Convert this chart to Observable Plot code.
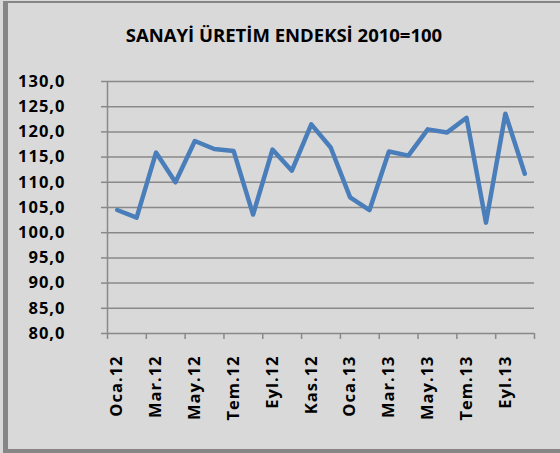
<!DOCTYPE html>
<html>
<head>
<meta charset="utf-8">
<script src="https://cdn.jsdelivr.net/npm/d3@7"></script>
<script src="https://cdn.jsdelivr.net/npm/@observablehq/plot@0.6"></script>
<style>
  html, body { margin: 0; padding: 0; background: #d9d9d9; }
  #frame {
    position: absolute; left: 3px; top: 1px; width: 560px; height: 452px;
    box-sizing: border-box;
    border-left: 5px solid #868686; border-top: 2px solid #868686; border-bottom: 4px solid #868686;
  }
  #chart { position: absolute; left: 0; top: 0; }
  #chart g[aria-label="y-axis tick label"] text,
  #chart g[aria-label="x-axis tick label"] text { letter-spacing: 1px; }
</style>
</head>
<body>
<div id="frame"></div>
<div id="chart"></div>
<script>
const title = "SANAYİ ÜRETİM ENDEKSİ 2010=100";
const months = ["Oca.12","Şub.12","Mar.12","Nis.12","May.12","Haz.12","Tem.12","Ağu.12","Eyl.12","Eki.12","Kas.12","Ara.12",
                "Oca.13","Şub.13","Mar.13","Nis.13","May.13","Haz.13","Tem.13","Ağu.13","Eyl.13","Eki.13"];
const values = [104.5,103.0,115.9,110.0,118.2,116.6,116.2,103.6,116.5,112.3,121.5,116.9,
                107.0,104.5,116.1,115.3,120.5,119.9,122.8,102.0,123.6,111.7];
const yTicks = [80,85,90,95,100,105,110,115,120,125,130];

const data = values.map((v, i) => ({pos: i + 0.5, value: v, month: months[i]}));
const boundaries = d3.range(0, months.length + 1, 2);
const labelPos = d3.range(0, months.length, 2).map(i => i + 0.5);
const fmt = d => d.toFixed(1).replace(".", ",");
const grid = "#898989";

const chart = Plot.plot({
  width: 560, height: 453,
  marginLeft: 107, marginRight: 26, marginTop: 81, marginBottom: 120,
  style: {background: "transparent", fontFamily: "'Open Sans', sans-serif", fontWeight: 700, fontSize: "16.5px", color: "#000"},
  x: {type: "linear", domain: [0, months.length]},
  y: {domain: [80, 130]},
  marks: [
    Plot.ruleY(yTicks, {stroke: grid, strokeWidth: 1.5}),
    Plot.ruleX([0], {stroke: grid, strokeWidth: 1.5}),
    Plot.axisY({ticks: yTicks, tickSize: 6, text: null, stroke: grid, strokeWidth: 1.5, label: null}),
    Plot.axisY({ticks: yTicks, tickSize: 0, tickPadding: 24, dx: -18, tickFormat: fmt, fill: "#000", label: null}),
    Plot.axisX({ticks: boundaries, tickSize: 6, text: null, stroke: grid, strokeWidth: 1.5, label: null}),
    Plot.axisX({ticks: labelPos, tickSize: 0, tickPadding: 22, tickRotate: -90, tickFormat: d => months[Math.round(d - 0.5)], fill: "#000", label: null}),
    Plot.line(data, {x: "pos", y: "value", stroke: "#4a7ebb", strokeWidth: 4.5, strokeLinejoin: "round", strokeLinecap: "round"}),
    Plot.text([title], {frameAnchor: "top", dx: -37, dy: -53, fontSize: 18.5, fontWeight: 700, fill: "#000"})
  ]
});
document.getElementById("chart").appendChild(chart);
</script>
</body>
</html>
